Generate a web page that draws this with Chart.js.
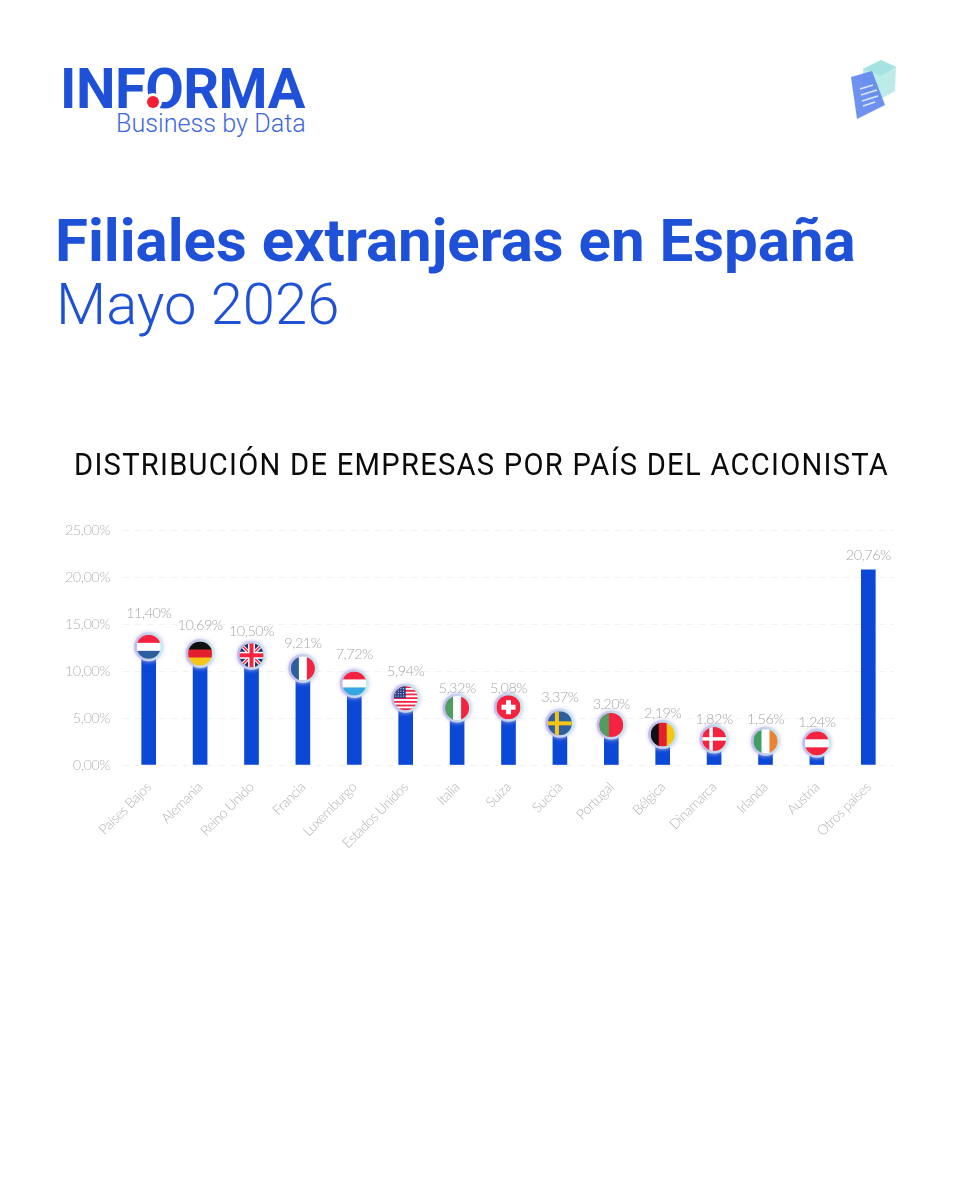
<!DOCTYPE html>
<html lang="es">
<head>
<meta charset="utf-8">
<title>Filiales extranjeras en España</title>
<script src="https://cdn.jsdelivr.net/npm/chart.js@4"></script>
<style>
  html, body { margin: 0; padding: 0; background: #fff; }
  body { position: relative; width: 960px; height: 1200px; overflow: hidden; font-family: Roboto, sans-serif; }
  .txt { position: absolute; white-space: nowrap; line-height: 1; }
  #brand { left: 60px; top: 56px; font: 700 56px Roboto, sans-serif; color: #1f50d8; letter-spacing: -0.5px; }
  #dot { position: absolute; left: 147px; top: 96px; width: 12px; height: 12px; border-radius: 50%; background: #f01f35; box-shadow: 0 0 0 3px #fff; }
  #tagline { left: 116px; top: 109px; font: 300 25.2px Roboto, sans-serif; color: #3f68dc; }
  #title { left: 55px; top: 205px; font: 700 60px Roboto, sans-serif; color: #1f50d8; }
  #month { left: 56px; top: 270px; font: 300 58px Roboto, sans-serif; color: #1f50d8; }
  #subtitle { left: 74px; top: 445px; font: 400 32px Roboto, sans-serif; color: #0a0a0a; letter-spacing: 1.4px; transform: scaleX(0.91); transform-origin: left top; }
  #icon { position: absolute; left: 845px; top: 55px; filter: blur(0.7px); }
  #chartBox { position: absolute; left: 0; top: 500px; width: 960px; height: 380px; }
</style>
</head>
<body>
<div class="txt" id="brand">INFORMA</div>
<div id="dot"></div>
<div class="txt" id="tagline">Business by Data</div>
<svg id="icon" width="56" height="70" viewBox="0 0 56 70">
  <polygon points="18,14 36,5 51,12 50,36 32,46 18,36" fill="#bdebe8"/>
  <polygon points="36,5 51,12 36,21 18,14" fill="#a5e3e2"/>
  <polygon points="6,22 27,16 40,50 12,64" fill="#5f86ee" opacity="0.9"/>
  <g stroke="#dfe8ff" stroke-width="1.4">
    <line x1="15" y1="34" x2="28" y2="30"/>
    <line x1="16" y1="40" x2="32" y2="35"/>
    <line x1="17" y1="46" x2="33" y2="41"/>
    <line x1="18" y1="51" x2="30" y2="47"/>
  </g>
</svg>
<div class="txt" id="title">Filiales extranjeras en España</div>
<div class="txt" id="month">Mayo 2026</div>
<div class="txt" id="subtitle">DISTRIBUCIÓN DE EMPRESAS POR PAÍS DEL ACCIONISTA</div>
<div id="chartBox"><canvas id="barChart"></canvas></div>

<script>
// ================= DATA =================
const countries = ["Países Bajos", "Alemania", "Reino Unido", "Francia", "Luxemburgo", "Estados Unidos", "Italia", "Suiza", "Suecia", "Portugal", "Bélgica", "Dinamarca", "Irlanda", "Austria", "Otros países"];
const shares = [11.40, 10.69, 10.50, 9.21, 7.72, 5.94, 5.32, 5.08, 3.37, 3.20, 2.19, 1.82, 1.56, 1.24, 20.76];
const flagCodes = ["nl", "de", "gb", "fr", "lu", "us", "it", "ch", "se", "pt", "be", "dk", "ie", "at", ""];
const yTicks = [0, 5, 10, 15, 20, 25];

// px above the bar top (the original places these by hand, so they vary a bit)
const labelLift = [45, 39, 35, 35, 38, 38, 27, 29, 36, 31, 31, 29, 31, 31, 15];
const flagLift = [11, 11, 11, 10, 9, 11, 7, 10, 10, 10, 10, 9, 9, 10, 0];

const RED = "#f5233f", BLUE = "#2e5e9e", WHITE = "#ffffff";

function pct(v) {
  return v.toFixed(2).replace(".", ",") + "%";
}

// ================= FLAGS =================
function hBands(c, r, colors) {
  const h = (2 * r) / colors.length;
  colors.forEach((col, i) => {
    c.fillStyle = col;
    c.fillRect(-r, -r + i * h, 2 * r, h + 0.5);
  });
}

function vBands(c, r, colors) {
  const w = (2 * r) / colors.length;
  colors.forEach((col, i) => {
    c.fillStyle = col;
    c.fillRect(-r + i * w, -r, w + 0.5, 2 * r);
  });
}

function cross(c, r, back, fore, t, dx) {
  c.fillStyle = back;
  c.fillRect(-r, -r, 2 * r, 2 * r);
  c.fillStyle = fore;
  c.fillRect(-r, -t / 2, 2 * r, t);
  c.fillRect(dx - t / 2, -r, t, 2 * r);
}

const flagPainters = {
  nl: (c, r) => hBands(c, r, [RED, WHITE, BLUE]),
  de: (c, r) => hBands(c, r, ["#111111", "#e5202e", "#f5c518"]),
  fr: (c, r) => vBands(c, r, [BLUE, WHITE, RED]),
  lu: (c, r) => hBands(c, r, [RED, WHITE, "#35a7e0"]),
  it: (c, r) => vBands(c, r, ["#4f9e5f", WHITE, RED]),
  be: (c, r) => vBands(c, r, ["#111111", "#e5202e", "#f5c518"]),
  ie: (c, r) => vBands(c, r, ["#3f9e62", WHITE, "#ee8033"]),
  at: (c, r) => hBands(c, r, [RED, WHITE, RED]),
  se: (c, r) => cross(c, r, BLUE, "#f5c518", 4, -3),
  dk: (c, r) => cross(c, r, RED, WHITE, 3.5, -3),
  ch: (c, r) => {
    c.fillStyle = RED;
    c.fillRect(-r, -r, 2 * r, 2 * r);
    c.fillStyle = WHITE;
    c.fillRect(-7, -2.5, 14, 5);
    c.fillRect(-2.5, -7, 5, 14);
  },
  pt: (c, r) => {
    c.fillStyle = RED;
    c.fillRect(-r, -r, 2 * r, 2 * r);
    c.fillStyle = "#4f9e5f";
    c.fillRect(-r, -r, r * 0.8, 2 * r);
  },
  gb: (c, r) => {
    c.fillStyle = "#27306b";
    c.fillRect(-r, -r, 2 * r, 2 * r);
    c.lineWidth = 3.5;
    c.strokeStyle = WHITE;
    c.beginPath();
    c.moveTo(-r, -r); c.lineTo(r, r);
    c.moveTo(r, -r); c.lineTo(-r, r);
    c.stroke();
    c.lineWidth = 1.4;
    c.strokeStyle = RED;
    c.stroke();
    c.fillStyle = WHITE;
    c.fillRect(-r, -3.5, 2 * r, 7);
    c.fillRect(-3.5, -r, 7, 2 * r);
    c.fillStyle = RED;
    c.fillRect(-r, -2, 2 * r, 4);
    c.fillRect(-2, -r, 4, 2 * r);
  },
  us: (c, r) => {
    const n = 13, h = (2 * r) / n;
    for (let i = 0; i < n; i++) {
      c.fillStyle = i % 2 ? WHITE : RED;
      c.fillRect(-r, -r + i * h, 2 * r, h + 0.3);
    }
    c.fillStyle = "#2f3f86";
    c.fillRect(-r, -r, r, r);
    c.fillStyle = "#dfe3f5";
    for (let i = 0; i < 4; i++) {
      for (let j = 0; j < 4; j++) {
        c.fillRect(-r + 1.5 + j * 2.6, -r + 2 + i * 2.5, 1, 1);
      }
    }
  }
};

// circular flag on top of each bar, plus the soft purple/teal ring
const flagsPlugin = {
  id: "flags",
  afterDatasetsDraw(chart) {
    const c = chart.ctx;
    const bars = chart.getDatasetMeta(0).data;
    flagCodes.forEach((code, i) => {
      if (!code) return;
      const r = 12;
      c.save();
      c.translate(bars[i].x, bars[i].y - flagLift[i]);
      const ring = c.createLinearGradient(-14, 0, 14, 0);
      ring.addColorStop(0, "#c4b8ee");
      ring.addColorStop(1, "#c6eeec");
      c.save();
      c.shadowColor = "#cfc8ee";
      c.shadowBlur = 4;
      c.fillStyle = ring;
      c.beginPath();
      c.arc(0, 0, r + 2.5, 0, Math.PI * 2);
      c.fill();
      c.restore();
      c.beginPath();
      c.arc(0, 0, r, 0, Math.PI * 2);
      c.clip();
      flagPainters[code](c, r);
      c.restore();
    });
  }
};

// value text above each bar
const valueLabels = {
  id: "valueLabels",
  afterDatasetsDraw(chart) {
    const c = chart.ctx;
    const bars = chart.getDatasetMeta(0).data;
    c.save();
    c.font = "300 14.5px Lato, sans-serif";
    c.fillStyle = "#a8a8a8";
    c.textAlign = "center";
    c.textBaseline = "middle";
    shares.forEach((v, i) => {
      c.fillText(pct(v), bars[i].x, bars[i].y - labelLift[i]);
    });
    c.restore();
  }
};

// the original text is set tight
const tightText = {
  id: "tightText",
  beforeDraw(chart) {
    chart.ctx.letterSpacing = "-0.5px";
  }
};

// ================= CHART =================
new Chart(document.getElementById("barChart"), {
  type: "bar",
  data: {
    labels: countries,
    datasets: [{
      data: shares,
      backgroundColor: "#0b48d6",
      barThickness: 14
    }]
  },
  options: {
    responsive: true,
    maintainAspectRatio: false,
    animation: false,
    layout: { padding: { top: 30, right: 66 } },
    plugins: { legend: { display: false }, tooltip: { enabled: false } },
    scales: {
      x: {
        grid: { display: false },
        border: { display: false },
        ticks: {
          color: "#b4b4b4",
          font: { family: "Lato, sans-serif", size: 14, weight: 300 },
          maxRotation: 45,
          minRotation: 45,
          padding: 6,
          autoSkip: false
        },
        afterFit(scale) { scale.height = 115; }
      },
      y: {
        min: 0,
        max: 25,
        afterBuildTicks(scale) { scale.ticks = yTicks.map(v => ({ value: v })); },
        grid: { color: "#f1f1f1", lineWidth: 1, drawTicks: false },
        border: { display: false, dash: [6, 6] },
        ticks: {
          color: "#b4b4b4",
          font: { family: "Lato, sans-serif", size: 14.5, weight: 300 },
          padding: 13,
          callback: v => pct(v)
        },
        afterFit(scale) { scale.width = 123; }
      }
    }
  },
  plugins: [tightText, flagsPlugin, valueLabels]
});
</script>
</body>
</html>
